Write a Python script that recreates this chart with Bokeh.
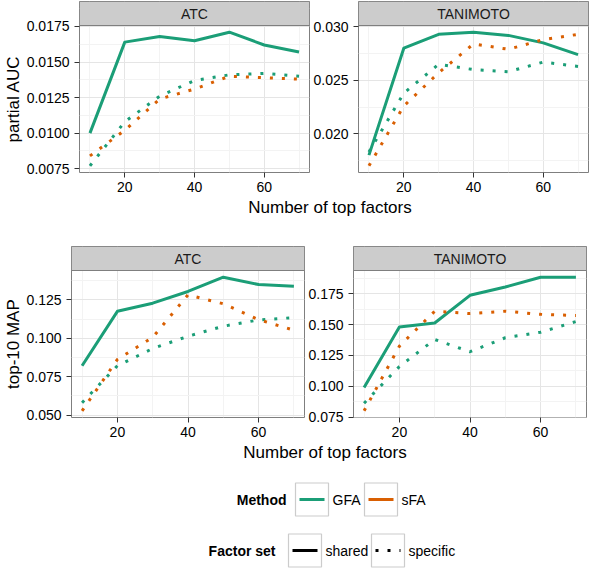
from bokeh.plotting import figure
from bokeh.layouts import column, row
from bokeh.models import Range1d, FixedTicker, PrintfTickFormatter, Label, Spacer, Title
from bokeh.core.properties import value
from bokeh.embed import file_html
from bokeh.resources import INLINE

FONT = "Liberation Sans"

# ---------------- data ----------------
n_factors = [10, 20, 30, 40, 50, 60, 70]
x_ticks = [20, 40, 60]
x_minor = [10, 30, 50, 70]

methods = ["GFA", "sFA"]
method_colors = ["#1B9E77", "#D95F02"]
factor_sets = ["shared", "specific"]

# partial AUC, ATC
pauc_atc_gfa_shared = [0.0100, 0.0164, 0.0168, 0.0165, 0.0171, 0.0162, 0.0157]
pauc_atc_gfa_specific = [0.0077, 0.0108, 0.0126, 0.0137, 0.0141, 0.0142, 0.0140]
pauc_atc_sfa_specific = [0.0084, 0.0102, 0.0124, 0.0131, 0.0140, 0.0139, 0.0138]
pauc_atc_yticks = [0.0075, 0.0100, 0.0125, 0.0150, 0.0175]

# partial AUC, TANIMOTO
pauc_tan_gfa_shared = [0.0180, 0.0280, 0.0293, 0.0295, 0.0292, 0.0285, 0.0274]
pauc_tan_gfa_specific = [0.0183, 0.0238, 0.0265, 0.0260, 0.0258, 0.0267, 0.0263]
pauc_tan_sfa_specific = [0.0170, 0.0226, 0.0257, 0.0284, 0.0279, 0.0288, 0.0293]
pauc_tan_yticks = [0.020, 0.025, 0.030]

# top-10 MAP, ATC
map_atc_gfa_shared = [0.0821, 0.1175, 0.1228, 0.1304, 0.1397, 0.1349, 0.1338]
map_atc_gfa_specific = [0.0581, 0.0821, 0.0933, 0.1013, 0.1078, 0.1119, 0.1134]
map_atc_sfa_specific = [0.0528, 0.0862, 0.1006, 0.1282, 0.1224, 0.1121, 0.1052]
map_atc_yticks = [0.050, 0.075, 0.100, 0.125]

# top-10 MAP, TANIMOTO
map_tan_gfa_shared = [0.0989, 0.1481, 0.1513, 0.1737, 0.1804, 0.1884, 0.1884]
map_tan_gfa_specific = [0.0863, 0.1160, 0.1379, 0.1280, 0.1393, 0.1438, 0.1524]
map_tan_sfa_specific = [0.0801, 0.1325, 0.1608, 0.1589, 0.1608, 0.1583, 0.1573]
map_tan_yticks = [0.075, 0.100, 0.125, 0.150, 0.175]

# ---------------- style ----------------
DASH = {"shared": "solid", "specific": "3 9"}
COLOR = dict(zip(methods, method_colors))
BORDER = "#7F7F7F"
STRIP_FILL = "#CCCCCC"
TICK_PX = "14px"
TITLE_PX = "17px"
STRIP_H = 24
FH = 147
MBB = 26


def minor_of(ticks):
    step = ticks[1] - ticks[0]
    mids = [(a + b) / 2 for a, b in zip(ticks, ticks[1:])]
    return [ticks[0] - step / 2] + mids + [ticks[-1] + step / 2]


def panel(series, yticks, fmt, strip_text, fw, mbl, mbr, ylabel=None, ylabel_len=0):
    allv = [v for s in series for v in s[2]]
    lo, hi = min(allv), max(allv)
    pad = 0.05 * (hi - lo)
    lo2, hi2 = lo - pad, hi + pad
    ytop = hi2 + (hi2 - lo2) * STRIP_H / FH
    xpad = 0.05 * (max(n_factors) - min(n_factors))
    x0, x1 = min(n_factors) - xpad, max(n_factors) + xpad
    p = figure(frame_width=fw, frame_height=FH + STRIP_H,
               x_range=Range1d(x0, x1), y_range=Range1d(lo2, ytop),
               output_backend="svg", toolbar_location=None,
               min_border_left=mbl, min_border_right=mbr,
               min_border_top=1, min_border_bottom=MBB)
    p.background_fill_color = "white"
    p.border_fill_color = "white"
    p.outline_line_color = BORDER
    p.outline_line_width = 1
    p.xaxis.ticker = FixedTicker(ticks=x_ticks, minor_ticks=x_minor)
    p.yaxis.ticker = FixedTicker(ticks=yticks, minor_ticks=minor_of(yticks))
    p.yaxis.formatter = PrintfTickFormatter(format=fmt)
    for ax in (p.xaxis, p.yaxis):
        ax.axis_line_color = None
        ax.major_tick_out = 5
        ax.major_tick_in = 0
        ax.minor_tick_out = 0
        ax.minor_tick_in = 0
        ax.major_tick_line_color = "#333333"
        ax.major_label_text_font = FONT
        ax.major_label_text_font_size = TICK_PX
        ax.major_label_text_color = "black"
    p.xaxis.major_label_standoff = 4
    p.yaxis.major_label_standoff = 5
    p.grid.grid_line_color = "#E5E5E5"
    p.grid.minor_grid_line_color = "#F3F3F3"
    for method, fset, vals in series:
        p.line(n_factors, vals, line_color=COLOR[method], line_width=3,
               line_dash=DASH[fset], line_join="round")
    # facet strip on top of the panel
    p.quad(left=[x0], right=[x1], bottom=[hi2], top=[ytop], fill_color=STRIP_FILL,
           fill_alpha=1.0, line_color=BORDER, line_width=1)
    p.text(x=[(x0 + x1) / 2], y=[(hi2 + ytop) / 2], text=[strip_text], text_align="center",
           text_baseline="middle", text_font=value(FONT), text_font_size=value(TICK_PX),
           text_color="#1a1a1a")
    if ylabel:
        p.add_layout(Title(text=ylabel, align="left", offset=(FH - ylabel_len) / 2,
                           standoff=2, text_font=FONT, text_font_size=TITLE_PX,
                           text_font_style="normal", text_color="black"), "left")
    return p


def title_bar(text, width, height, cx):
    t = figure(width=width, height=height, x_range=Range1d(0, width), y_range=Range1d(0, height),
               x_axis_location=None, y_axis_location=None,
               min_border=0, output_backend="svg", toolbar_location=None)
    t.grid.visible = False
    t.outline_line_color = None
    t.add_layout(Label(x=cx, y=height / 2, text=text, text_align="center",
                       text_baseline="middle", text_font=FONT,
                       text_font_size=TITLE_PX, text_color="black"))
    return t


W = 584
# top row
TL = dict(fw=230, mbl=76, mbr=1)
TR = dict(fw=230, mbl=46, mbr=1)
p_tl = panel([("GFA", "shared", pauc_atc_gfa_shared),
              ("GFA", "specific", pauc_atc_gfa_specific),
              ("sFA", "specific", pauc_atc_sfa_specific)],
             pauc_atc_yticks, "%.4f", "ATC", TL["fw"], TL["mbl"], TL["mbr"],
             "partial AUC", 87)
p_tr = panel([("GFA", "shared", pauc_tan_gfa_shared),
              ("GFA", "specific", pauc_tan_gfa_specific),
              ("sFA", "specific", pauc_tan_sfa_specific)],
             pauc_tan_yticks, "%.3f", "TANIMOTO", TR["fw"], TR["mbl"], TR["mbr"])
tl_w = TL["mbl"] + TL["fw"] + TL["mbr"]
top_cx = (TL["mbl"] + tl_w + TR["mbl"] + TR["fw"]) / 2
t_top = title_bar("Number of top factors", W, 18, top_cx)

# bottom row
BL = dict(fw=233, mbl=68, mbr=1)
BR = dict(fw=233, mbl=46, mbr=3)
p_bl = panel([("GFA", "shared", map_atc_gfa_shared),
              ("GFA", "specific", map_atc_gfa_specific),
              ("sFA", "specific", map_atc_sfa_specific)],
             map_atc_yticks, "%.3f", "ATC", BL["fw"], BL["mbl"], BL["mbr"],
             "top-10 MAP", 90)
p_br = panel([("GFA", "shared", map_tan_gfa_shared),
              ("GFA", "specific", map_tan_gfa_specific),
              ("sFA", "specific", map_tan_sfa_specific)],
             map_tan_yticks, "%.3f", "TANIMOTO", BR["fw"], BR["mbl"], BR["mbr"])
bl_w = BL["mbl"] + BL["fw"] + BL["mbr"]
bot_cx = (BL["mbl"] + bl_w + BR["mbl"] + BR["fw"]) / 2
t_bot = title_bar("Number of top factors", W, 18, bot_cx)

# legend
LH = 107
leg = figure(width=W, height=LH, x_range=Range1d(0, W), y_range=Range1d(LH, 0),
             x_axis_location=None, y_axis_location=None, min_border=0,
             output_backend="svg", toolbar_location=None)
leg.grid.visible = False
leg.outline_line_color = None

rows_spec = [
    ("Method", 38, 286, [(295, COLOR["GFA"], "solid", "GFA"), (364, COLOR["sFA"], "solid", "sFA")]),
    ("Factor set", 89, 275, [(288, "black", "solid", "shared"), (371, "black", DASH["specific"], "specific")]),
]
BOX = 33
for title, cy, title_right, keys in rows_spec:
    leg.text(x=[title_right], y=[cy], text=[title], text_align="right", text_baseline="middle",
             text_font=value(FONT), text_font_size=value("14px"), text_font_style="bold",
             text_color="black")
    for bx, col, dash, lab in keys:
        leg.rect(x=[bx + BOX / 2], y=[cy], width=BOX, height=BOX, fill_color="white",
                 line_color="#CCCCCC", line_width=1.2)
        leg.segment(x0=[bx + 4], y0=[cy], x1=[bx + BOX - 4], y1=[cy], line_color=col,
                    line_width=3, line_dash=dash)
        leg.text(x=[bx + BOX + 4], y=[cy], text=[lab], text_align="left", text_baseline="middle",
                 text_font=value(FONT), text_font_size=value("14px"), text_color="black")

layout = column(
    row(p_tl, p_tr),
    t_top,
    Spacer(width=W, height=29),
    row(p_bl, p_br),
    t_bot,
    leg,
)

open("out.html", "w").write(file_html(layout, INLINE))
